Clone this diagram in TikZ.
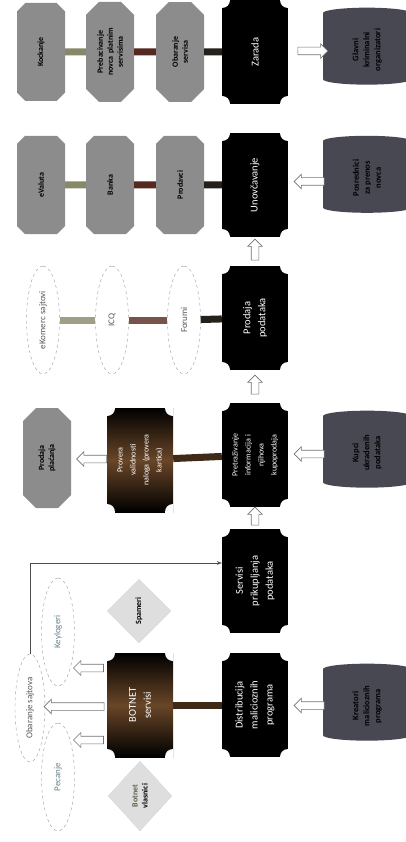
\documentclass[tikz,border=0pt]{standalone}
\usepackage{fontspec}
\setmainfont{Carlito}
\usetikzlibrary{shapes.geometric,shapes.misc,shapes.arrows,arrows.meta,calc}
\definecolor{octgray}{RGB}{140,140,140}
\definecolor{cylgray}{RGB}{72,72,82}
\definecolor{olivebar}{RGB}{135,135,105}
\definecolor{brownbar}{RGB}{85,40,32}
\definecolor{darkbar}{RGB}{38,32,26}
\definecolor{botbrown}{RGB}{105,70,40}
\definecolor{tealgray}{RGB}{105,130,140}
\tikzset{
  blackbox/.style={rotate=90, minimum width=104pt, minimum height=66pt, inner sep=1pt,
    fill=black, text=white, align=center, text width=94pt,
    font=\fontsize{10.5}{15}\selectfont,
    path picture={\foreach \c in {north west,north east,south west,south east}
      \fill[white] (path picture bounding box.\c) circle (8pt);}},
  brownbox/.style={blackbox, top color=black, bottom color=black, middle color=botbrown},
  smalltext/.style={font=\fontsize{8}{13}\selectfont},
  octagon/.style={chamfered rectangle, rotate=90, chamfered rectangle xsep=9pt,
    chamfered rectangle ysep=4pt, minimum width=98pt, minimum height=48pt, inner sep=1pt,
    fill=octgray, align=center, text width=80pt, font=\fontsize{8}{10}\selectfont\bfseries},
  barrel/.style={cylinder, rotate=90, aspect=0.3, minimum width=88pt, minimum height=77pt,
    fill=cylgray, text=black, align=center, font=\fontsize{8.5}{11}\selectfont\bfseries},
  oval/.style={ellipse, rotate=90, draw=black!40, dashed, thin, fill=white, inner sep=1pt,
    minimum width=108pt, minimum height=33pt, text=black!65, font=\fontsize{9}{10}\selectfont},
  rhomb/.style={diamond, rotate=90, minimum width=64pt, minimum height=64pt, inner sep=0pt,
    draw=black!25, densely dotted, fill=black!13, align=center,
    font=\fontsize{8}{10}\selectfont\bfseries},
  blockarrow/.style={single arrow, draw=black!55, fill=white, line width=0.6pt,
    inner sep=3.5pt, single arrow head extend=3.5pt, single arrow tip angle=90,
    minimum height=30pt},
  bar/.style={line width=7pt}
}
\begin{document}
\begin{tikzpicture}[x=1pt,y=1pt]
  \useasboundingbox (0,0) rectangle (406,-842);
  \node[blackbox] (zarada) at (255,-52) {Zarada};
  \node[blackbox] (unovcavanje) at (255,-185) {Unovčavanje};
  \node[blackbox] (prodaja) at (255,-318) {Prodaja\\podataka};
  \node[blackbox, smalltext] (pretrazivanje) at (255,-455) {Pretraživanje\\informacija i\\njihova\\kupoprodaja};
  \node[blackbox] (servisi) at (255,-581) {Servisi\\prikupljanja\\podataka};
  \node[blackbox] (distribucija) at (255,-705) {Distribucija\\malicioznih\\programa};
  \node[brownbox, smalltext] (provera) at (140,-460) {Provera\\validnosti\\naloga (provera\\kartica)};
  \node[brownbox] (botnet) at (140,-705) {BOTNET\\servisi};

  \node[barrel] (glavni) at (367,-50) {Glavni\\kriminalni\\organizatori};
  \node[barrel] (posrednici) at (367,-178) {Posrednici\\za prenos\\novca};
  \node[barrel] (kupci) at (367,-453) {Kupci\\ukradenih\\podataka};
  \node[barrel] (kreatori) at (367,-706) {Kreatori\\malicioznih\\programa};

  \node[octagon] (kockanje) at (41,-52) {Kockanje};
  \node[octagon] (prebacivanje) at (110,-52) {Prebacivanje\\novca platnim\\servisima};
  \node[octagon] (obaranjeservisa) at (180,-52) {Obaranje\\servisa};
  \node[octagon] (evaluta) at (41,-185) {eValuta};
  \node[octagon] (banka) at (110,-185) {Banka};
  \node[octagon] (prodavci) at (180,-185) {Prodavci};
  \node[octagon] (placanja) at (47,-458) {Prodaja\\plaćanja};

  \node[oval] (ekomerc) at (43,-320) {eKomerc sajtovi};
  \node[oval] (icq) at (112,-320) {ICQ};
  \node[oval] (forumi) at (184,-320) {Forumi};
  \node[oval, minimum height=30pt] (obaranje) at (30,-708) {Obaranje sajtova};
  \node[oval, text=tealgray] (keylogeri) at (58,-632) {Keylogeri};
  \node[oval, text=tealgray] (pecanje) at (58,-777) {Pecanje};

  \node[rhomb] (spameri) at (139,-611) {Spameri};
  \node[rhomb, minimum width=70pt] (vlasnici) at (140,-796) {\textcolor{olivebar!70!black}{Botnet}\\vlasnici};

  \coordinate (kljend) at (74,-668);
  \coordinate (pecend) at (74,-740);

  \begin{scope}[bar]
    \draw[olivebar] (kockanje) to (prebacivanje);
    \draw[brownbar] (prebacivanje) to (obaranjeservisa);
    \draw[darkbar] (obaranjeservisa) to (zarada);
    \draw[olivebar] (evaluta) to (banka);
    \draw[brownbar] (banka) to (prodavci);
    \draw[darkbar] (prodavci) to (unovcavanje);
    \draw[olivebar!80!white] (ekomerc) to (icq);
    \draw[brownbar!80!white] (icq) to (forumi);
    \draw[darkbar] (forumi) to (prodaja);
    \draw[botbrown!60!black] (provera) to (pretrazivanje);
    \draw[botbrown!60!black] (botnet) to (distribucija);
  \end{scope}

  \node[blockarrow] (a1) at ($(zarada)!0.5!(glavni)$) {};
  \node[blockarrow, rotate=180] (a2) at ($(posrednici)!0.5!(unovcavanje)$) {};
  \node[blockarrow, rotate=90, minimum height=21pt] (a3) at ($(prodaja)!0.5!(unovcavanje)$) {};
  \node[blockarrow, rotate=90, minimum height=19pt] (a4) at ($(pretrazivanje)!0.5!(prodaja)$) {};
  \node[blockarrow, rotate=90, minimum height=18pt] (a5) at ($(servisi)!0.5!(pretrazivanje)$) {};
  \node[blockarrow, rotate=180] (a6) at ($(kupci)!0.5!(pretrazivanje)$) {};
  \node[blockarrow, rotate=180] (a7) at ($(kreatori)!0.5!(distribucija)$) {};
  \node[blockarrow, rotate=180] (a8) at ($(provera)!0.5!(placanja)$) {};
  \node[blockarrow, rotate=180] (a9) at ($(botnet.north |- kljend)!0.5!(kljend)$) {};
  \node[blockarrow, rotate=180, minimum height=60pt] (a10) at ($(botnet.north)!0.5!(obaranje.south)$) {};
  \node[blockarrow, rotate=180] (a11) at ($(botnet.north |- pecend)!0.5!(pecend)$) {};

  \draw[black!70, -{Stealth[length=5pt]}] (obaranje.east) |- ([yshift=18pt]servisi.north);
\end{tikzpicture}
\end{document}
